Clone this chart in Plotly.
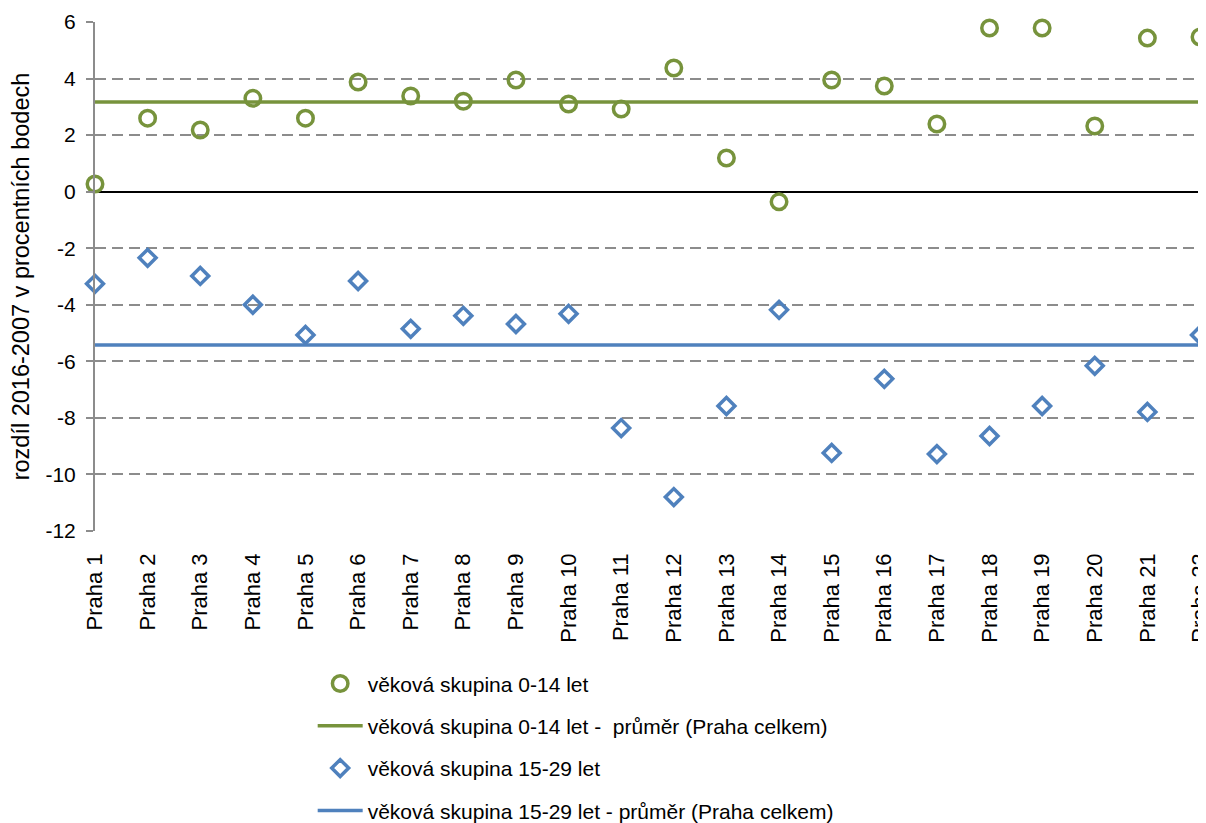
import plotly.graph_objects as go

categories = ["Praha %d" % i for i in range(1, 23)]
group_0_14 = [0.27, 2.6, 2.18, 3.3, 2.6, 3.88, 3.38, 3.2, 3.95, 3.1, 2.92,
              4.37, 1.19, -0.36, 3.95, 3.74, 2.39, 5.79, 5.79, 2.32, 5.43, 5.47]
group_15_29 = [-3.26, -2.34, -2.98, -4.0, -5.07, -3.16, -4.85, -4.39, -4.68, -4.32, -8.36,
               -10.8, -7.58, -4.18, -9.24, -6.62, -9.28, -8.64, -7.58, -6.16, -7.79, -5.07]
mean_0_14 = 3.17
mean_15_29 = -5.42
y_ticks = [-12, -10, -8, -6, -4, -2, 0, 2, 4, 6]

green = "#77933C"
blue = "#4F81BD"
font = "Liberation Sans, Arial, sans-serif"

fig = go.Figure()
fig.add_trace(go.Scatter(
    x=categories, y=group_0_14, mode="markers", name="věková skupina 0-14 let",
    marker=dict(symbol="circle-open", size=15.5, color=green, line=dict(width=3.5, color=green)),
    legendgroup="a", cliponaxis=False))
fig.add_trace(go.Scatter(
    x=categories, y=[mean_0_14] * len(categories), mode="lines",
    name="věková skupina 0-14 let -  průměr (Praha celkem)",
    line=dict(color=green, width=3.5), legendgroup="b"))
fig.add_trace(go.Scatter(
    x=categories, y=group_15_29, mode="markers", name="věková skupina 15-29 let",
    marker=dict(symbol="diamond-open", size=13, color=blue, line=dict(width=3.5, color=blue)),
    legendgroup="c", cliponaxis=False))
fig.add_trace(go.Scatter(
    x=categories, y=[mean_15_29] * len(categories), mode="lines",
    name="věková skupina 15-29 let - průměr (Praha celkem)",
    line=dict(color=blue, width=3.5), legendgroup="d"))

# page body has an 8px default margin, so the figure is 8px smaller than the window
fig.update_layout(
    width=1198, height=815,
    margin=dict(l=87, r=6, t=14, b=292, autoexpand=False),
    paper_bgcolor="white", plot_bgcolor="white",
    font=dict(family=font, size=21, color="black"),
    showlegend=True,
    legend=dict(orientation="v", x=0.197, xanchor="left", y=-0.26, yanchor="top",
                font=dict(size=21), tracegroupgap=12, itemwidth=45,
                bgcolor="rgba(0,0,0,0)"),
    xaxis=dict(type="category", range=[0, 21], showgrid=False, showline=False,
               ticks="", tickangle=-90, tickfont=dict(size=22), automargin=False,
               ticklabelstandoff=17),
    yaxis=dict(range=[-12, 6], tickvals=y_ticks, ticktext=[str(v) for v in y_ticks],
               showgrid=True, gridcolor="#8C8C8C", griddash="11px,6px", gridwidth=1.5,
               zeroline=True, zerolinecolor="black", zerolinewidth=2,
               showline=True, linecolor="#8C8C8C", linewidth=2,
               ticks="outside", ticklen=7, tickcolor="#8C8C8C", tickwidth=1.5,
               tickfont=dict(size=21), automargin=False, ticklabelstandoff=6,
               title=dict(text="rozdíl 2016-2007 v procentních bodech", font=dict(size=23.5),
                          standoff=14)),
)

fig.write_html("out.html")
